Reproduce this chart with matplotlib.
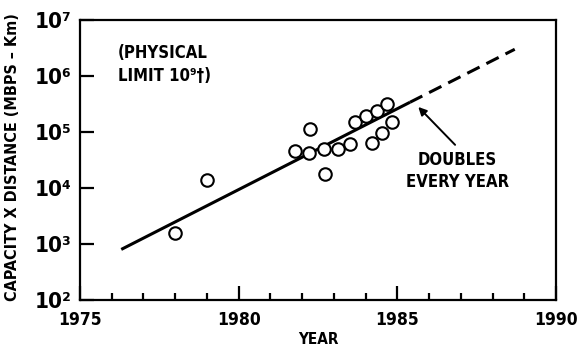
import numpy as np
import matplotlib
matplotlib.use("Agg")
import matplotlib.pyplot as plt
from matplotlib.ticker import FixedLocator, FuncFormatter

plt.rcParams["font.family"] = ["DejaVu Sans"]
plt.rcParams["font.stretch"] = "condensed"
plt.rcParams["font.weight"] = "bold"

SUP = str.maketrans("0123456789", "\u2070\u00b9\u00b2\u00b3\u2074\u2075\u2076\u2077\u2078\u2079")

# measured systems (year, capacity x distance in Mbps-km)
years = [1978.0, 1979.0, 1981.76, 1982.23, 1982.26, 1982.70, 1982.73, 1983.12,
         1983.50, 1983.68, 1984.02, 1984.20, 1984.36, 1984.52, 1984.69, 1984.83]
capacity = [1.6e3, 1.4e4, 4.6e4, 4.3e4, 1.12e5, 4.9e4, 1.8e4, 4.9e4,
            6.1e4, 1.5e5, 1.95e5, 6.3e4, 2.4e5, 9.5e4, 3.2e5, 1.5e5]

# trend line: fitted part and extrapolation
trend_years = [1976.3, 1985.4]
trend_vals = [8.0e2, 3.4e5]
extrap_years = [1985.4, 1988.7]
extrap_vals = [3.4e5, 3.0e6]

xticks = [1975, 1980, 1985, 1990]
yticks = [1e2, 1e3, 1e4, 1e5, 1e6, 1e7]

fig = plt.figure(figsize=(5.79, 3.49), dpi=100)
ax = fig.add_axes([80 / 579, 1 - 300 / 349, 476 / 579, 280 / 349])

ax.plot(trend_years, trend_vals, color="black", lw=2.2, solid_capstyle="butt")
ax.plot(extrap_years, extrap_vals, color="black", lw=2.2, dashes=(4.5, 2.5))
ax.plot(years, capacity, "o", ms=9, mfc="white", mec="black", mew=1.5)

ax.set_yscale("log")
ax.set_xlim(1975, 1990)
ax.set_ylim(1e2, 1e7)

ax.xaxis.set_major_locator(FixedLocator(xticks))
ax.xaxis.set_minor_locator(FixedLocator(np.arange(1976, 1990)))
ax.yaxis.set_major_locator(FixedLocator(yticks))
ax.yaxis.set_minor_locator(FixedLocator([]))
ax.yaxis.set_major_formatter(
    FuncFormatter(lambda v, p: "10" + str(round(np.log10(v))).translate(SUP)))

ax.tick_params(which="major", direction="in", length=10, width=1.6,
               labelsize=12.5, pad=8)
ax.tick_params(which="minor", direction="in", length=5, width=1.6)
ax.tick_params(axis="y", labelsize=16, pad=6)
for s in ax.spines.values():
    s.set_linewidth(1.6)

for lab in ax.get_xticklabels() + ax.get_yticklabels():
    lab.set_fontweight("bold")
    lab.set_fontstretch("condensed")

ax.set_xlabel("YEAR", fontsize=11, fontweight="bold", labelpad=2)
ax.set_ylabel("CAPACITY X DISTANCE (MBPS \u2013 Km)", fontsize=11.5,
              fontweight="bold", labelpad=6)
ax.yaxis.set_label_coords(-0.125, 0.51)

ax.text(0.08, 0.915, "(PHYSICAL\nLIMIT 10\u2079\u2020)", transform=ax.transAxes,
        ha="left", va="top", fontsize=12, fontweight="bold", linespacing=1.35)

ax.annotate("", xy=(1985.66, 2.8e5), xytext=(1986.82, 5.9e4),
            arrowprops=dict(arrowstyle="-|>", color="black", lw=1.4,
                            shrinkA=0, shrinkB=0, mutation_scale=12))
ax.text(1986.9, 2.0e4, "DOUBLES\nEVERY YEAR", ha="center", va="center",
        fontsize=12, fontweight="bold", linespacing=1.25)

fig.savefig("out.png", dpi=100)
